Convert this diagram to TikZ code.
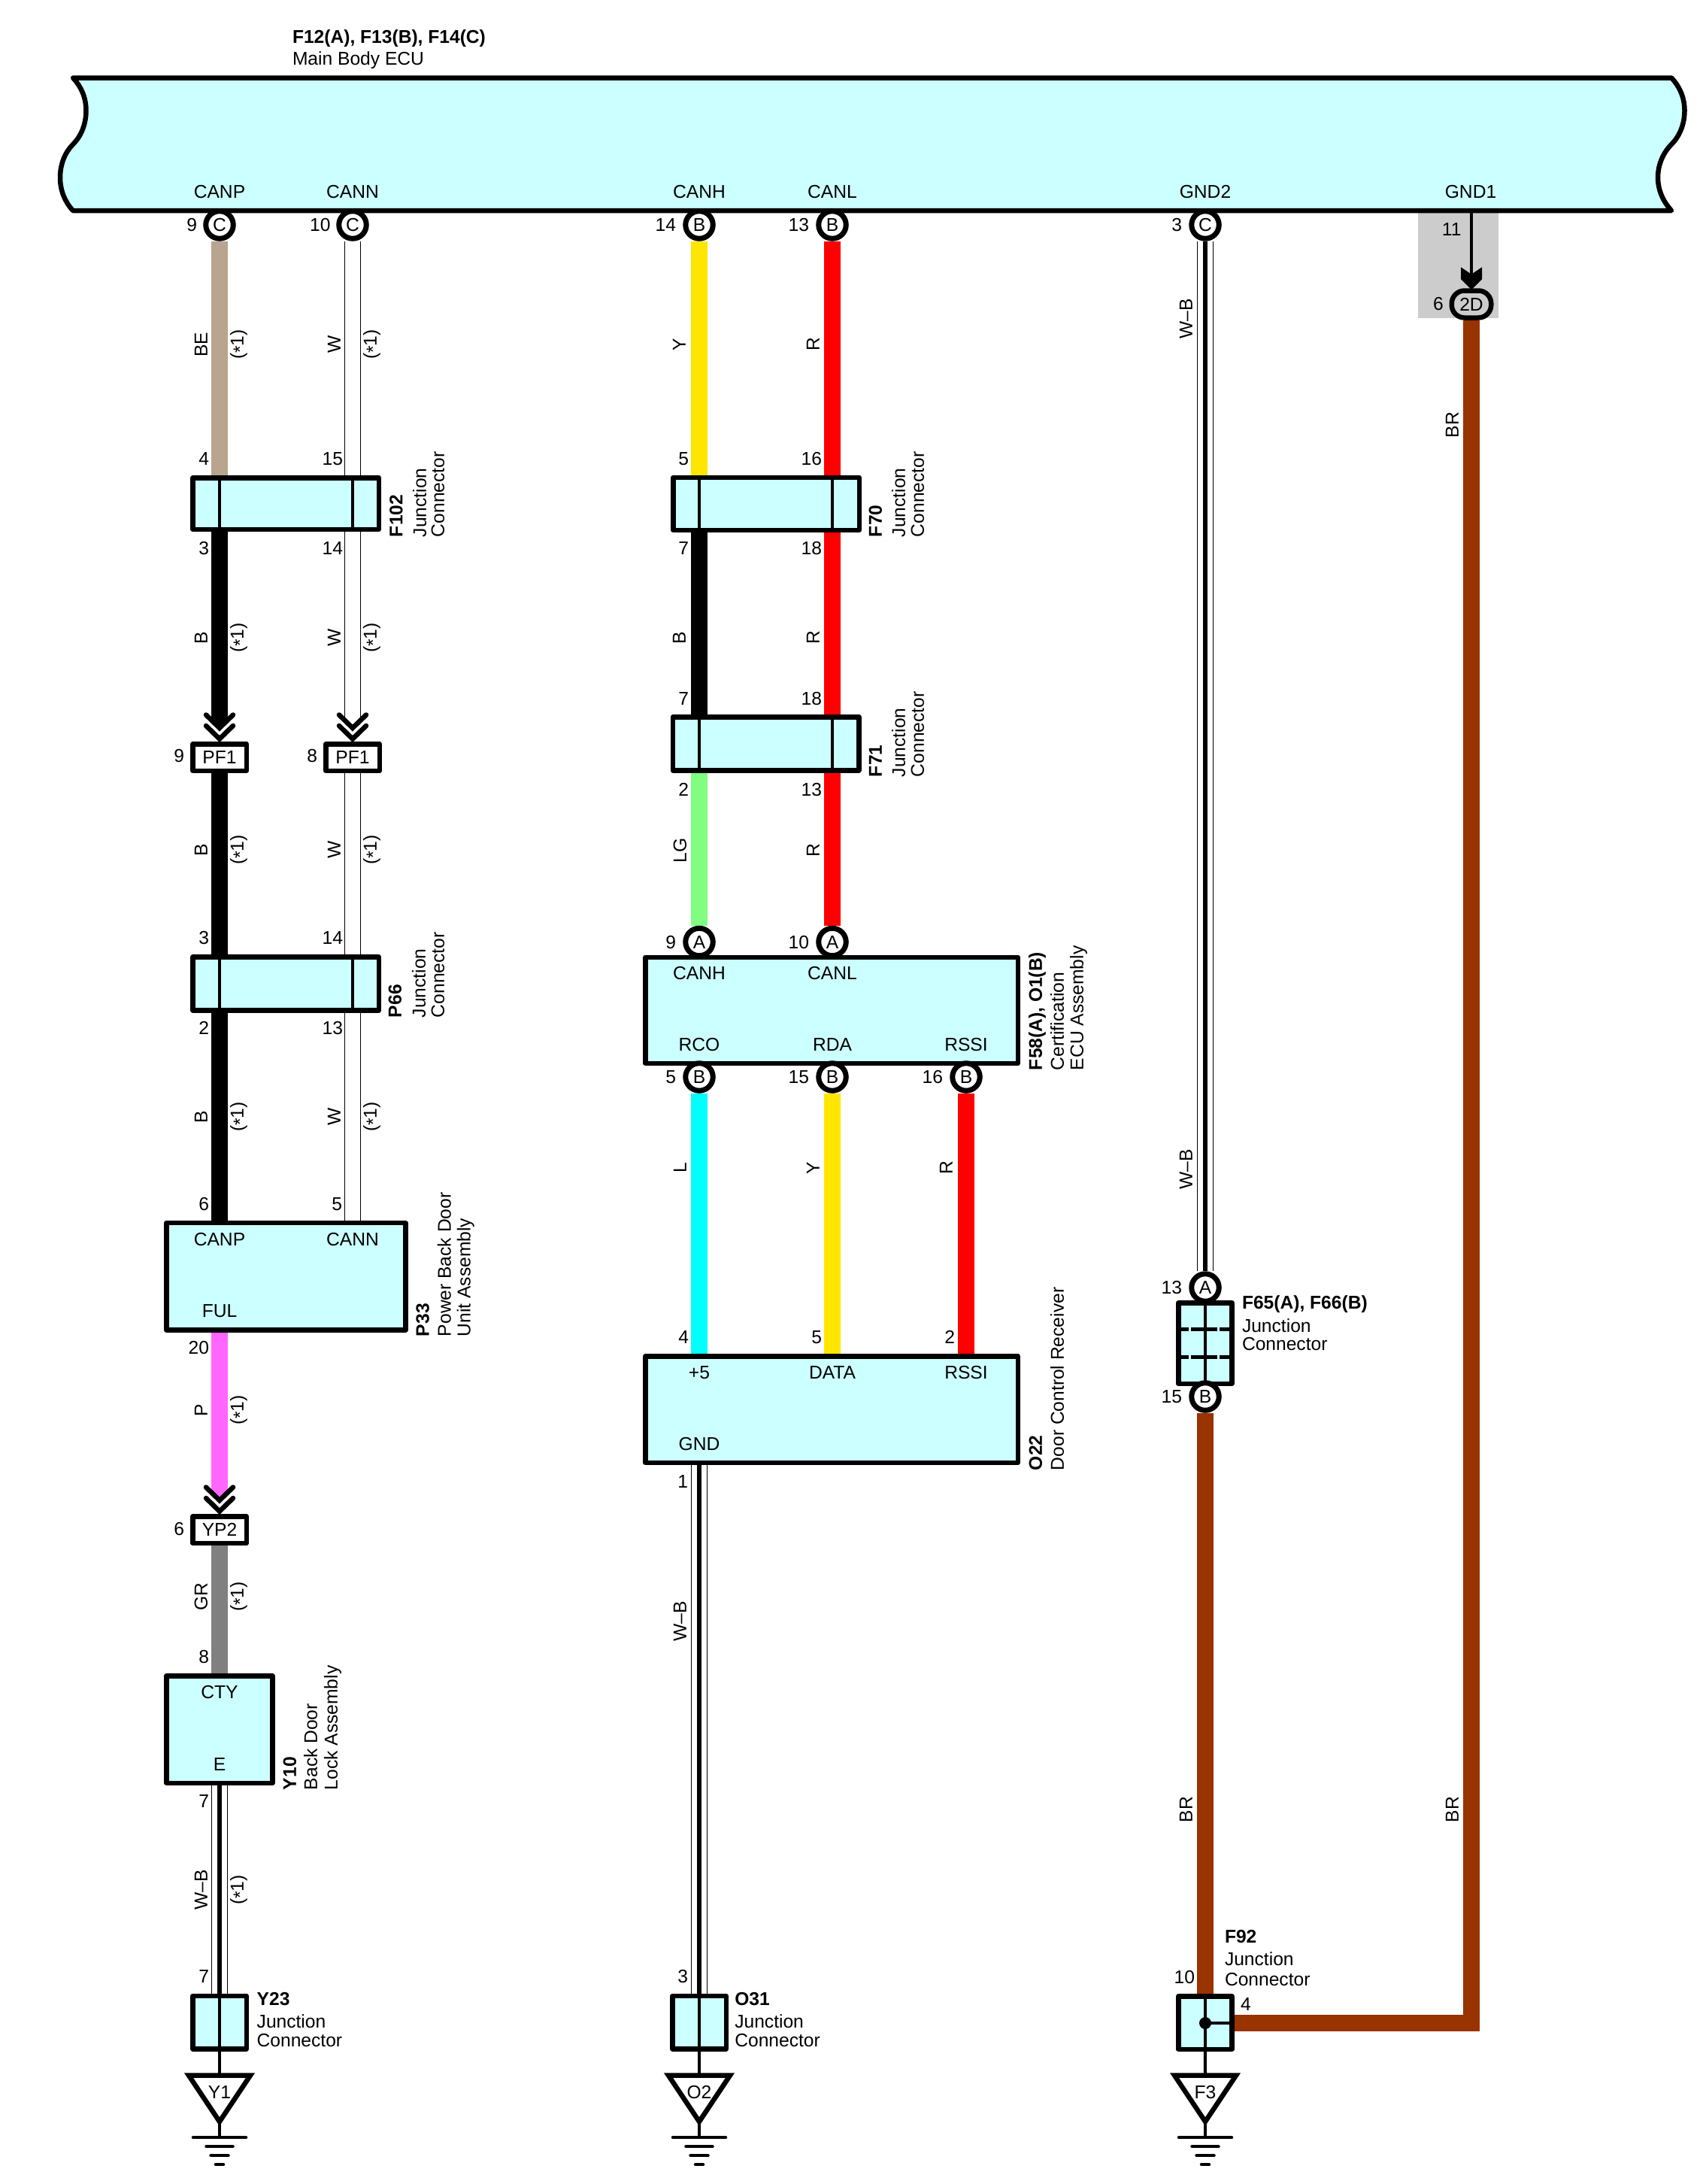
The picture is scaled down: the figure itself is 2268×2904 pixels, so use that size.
\documentclass[tikz,border=0pt]{standalone}
\usepackage{fontspec}
\setmainfont{Liberation Sans}
\pgfdeclarelayer{wires}
\pgfsetlayers{wires,main}
\definecolor{boxcyan}{HTML}{CCFFFF}
\definecolor{wtan}{HTML}{B8A48F}
\definecolor{wpink}{HTML}{FF66FF}
\definecolor{wgray}{HTML}{808080}
\definecolor{wcyan}{HTML}{00FFFF}
\definecolor{wyellow}{HTML}{FFE600}
\definecolor{wgreen}{HTML}{80FF80}
\definecolor{wbrown}{HTML}{993300}
\definecolor{wred}{HTML}{FF0000}
\definecolor{panelgray}{HTML}{CCCCCC}
\newcommand\labfont{\fontsize{24.6}{26}\selectfont}
\tikzset{
  txt/.style={inner sep=0pt,outer sep=0pt,font=\labfont,text height=17.6pt,text depth=0pt},
  unitbox/.style={draw=black,fill=boxcyan,line width=6.5pt,line join=round,inner sep=0pt},
  pinc/.style={circle,draw=black,fill=white,line width=7pt,minimum size=36.5pt,inner sep=0pt,font=\labfont,text height=17.6pt,text depth=0pt},
  conn/.style={rectangle,draw=black,fill=white,line width=6.5pt,line join=round,minimum width=71.5pt,minimum height=35.5pt,inner sep=0pt,font=\labfont,text height=17.6pt,text depth=0pt},
  wire/.style={line width=21.5pt,line join=miter},
  wirew/.style={draw=black,line width=1.2pt,double=white,double distance=19.5pt},
  wirecore/.style={draw=black,line width=5.5pt},
  innerline/.style={draw=black,line width=4pt},
  chev/.style={draw=black,line width=6.5pt,line cap=round,line join=miter},
  gline/.style={draw=black,line width=4.5pt,line cap=round},
}
\newcount\tctr
\newcommand\ctext[3]{\global\advance\tctr by 1 \node[txt] (t\the\tctr) at (#1,#2) {#3};}
\newcommand\wtext[3]{\global\advance\tctr by 1 \node[txt,anchor=west] (t\the\tctr) at (#1,#2) {#3};}
\newcommand\vtext[3]{\global\advance\tctr by 1 \node[txt,rotate=90] (t\the\tctr) at (#1,#2) {#3};}
\newcommand\nlab[3]{\global\advance\tctr by 1 \node[txt,anchor=east] (t\the\tctr) at (#1,#2) {#3};}
\newcommand\vstart[3]{\global\advance\tctr by 1 \node[txt,rotate=90,anchor=west] (t\the\tctr) at (#1,#2) {#3};}
\newcommand\starone{(\raisebox{-0.16em}{*}1)}
\newcommand\ubox[5]{%
  \pgfmathsetmacro\bw{#4-#2-6.5}\pgfmathsetmacro\bh{#5-#3-6.5}%
  \node[unitbox,minimum width=\bw pt,minimum height=\bh pt] (#1) at ({(#2+#4)/2},{(#3+#5)/2}) {};}
% double chevron above a connector node; #2 = colour of the wire tip
\newcommand\chevs[3]{%
  \coordinate (#1end) at ([yshift=28pt]#2.north);
  \fill[#3] ([xshift=-10.75pt,yshift=28.5pt]#2.north) -- ([yshift=18pt]#2.north) -- ([xshift=10.75pt,yshift=28.5pt]#2.north) -- cycle;
  \draw[chev] ([xshift=-18pt,yshift=35.5pt]#2.north) -- ([yshift=18pt]#2.north) -- ([xshift=18pt,yshift=35.5pt]#2.north);
  \draw[chev] ([xshift=-18pt,yshift=21pt]#2.north) -- ([yshift=3.5pt]#2.north) -- ([xshift=18pt,yshift=21pt]#2.north);}
% earth symbol: name, x, text, box above
\newcommand\earth[4]{%
  \coordinate (#1top) at (#2,2759.5);
  \coordinate (#1apex) at (#2,2821);
  \coordinate (#1g) at (#2,2842);
  \draw[innerline] (#4.south) -- (#1top);
  \draw[draw=black,line width=6.5pt,line join=miter,fill=white] ({#2-41},2759.5) -- ({#2+41},2759.5) -- (#1apex) -- cycle;
  \draw[line width=4.5pt] (#1apex) -- (#1g);
  \draw[gline] ({#2-35},2842) -- ({#2+35},2842);
  \draw[gline] ({#2-17.5},2854) -- ({#2+17.5},2854);
  \draw[gline] ({#2-11.5},2866) -- ({#2+11.5},2866);
  \draw[gline] ({#2-5},2878) -- ({#2+5},2878);
  \ctext{#2}{2782}{#3}}
\begin{document}
\begin{tikzpicture}[x=1pt,y=-1pt]
\useasboundingbox (0,0) rectangle (2268,2904);
\begin{pgfonlayer}{wires}
  \fill[panelgray] (1886,280) rectangle (1993,422.7);
\end{pgfonlayer}
% main body
\draw[unitbox] (97,103.5) -- (2223,103.5)
  .. controls (2234,115) and (2240.5,130) .. (2240.5,147)
  .. controls (2240.5,165) and (2234,181) .. (2223,192)
  .. controls (2212,203) and (2205,219) .. (2205,236)
  .. controls (2205,253) and (2212,268) .. (2223,280)
  -- (97,280)
  .. controls (86,268) and (80,253) .. (80,236)
  .. controls (80,219) and (86,203) .. (97,192)
  .. controls (108,181) and (114.5,165) .. (114.5,147)
  .. controls (114.5,130) and (108,115) .. (97,103.5) -- cycle;
\global\tctr=0
\global\advance\tctr by 1
\node[txt,font=\labfont\bfseries,anchor=west] (ecutitle) at (389,49) {F12(A), F13(B), F14(C)};
\node[txt,anchor=west] (ecuname) at (389,78) {Main Body ECU};
\ctext{292}{254.5}{CANP}\ctext{469}{254.5}{CANN}\ctext{930}{254.5}{CANH}\ctext{1107}{254.5}{CANL}\ctext{1603}{254.5}{GND2}\ctext{1956}{254.5}{GND1}
% pins on main body
\node[pinc] (pcanp) at (292,299) {C};
\node[pinc] (pcann) at (469,299) {C};
\node[pinc] (pcanh) at (930,299) {B};
\node[pinc] (pcanl) at (1107,299) {B};
\node[pinc] (pgnd2) at (1603,299) {C};
\coordinate (pgnd1) at (1957,280);
\nlab{262}{299}{9}\nlab{439.5}{299}{10}\nlab{899}{299}{14}\nlab{1076}{299}{13}\nlab{1572}{299}{3}
\ctext{1930.7}{305}{11}\ctext{1913}{404}{6}
% 2D oval and arrow
\node[draw=black,fill=panelgray,line width=6.5pt,rounded corners=17pt,minimum width=52.5pt,minimum height=36pt,inner sep=0pt,font=\labfont,text height=17.6pt,text depth=0pt] (o2d) at (1957,404.5) {2D};
\draw[line width=4pt] (pgnd1) -- (o2d.north);
\fill[black] ([xshift=-14pt,yshift=28pt]o2d.north) -- ([yshift=18.5pt]o2d.north) -- ([xshift=14pt,yshift=28pt]o2d.north) -- ([xshift=14pt,yshift=12pt]o2d.north) -- ([yshift=-2pt]o2d.north) -- ([xshift=-14pt,yshift=12pt]o2d.north) -- cycle;

% --- left column ---
\ubox{fonetwo}{253}{632}{507}{707}
\coordinate (fonetwoa) at (292,669.5); \coordinate (fonetwob) at (469,669.5);
\draw[innerline] (fonetwoa |- fonetwo.north) -- (fonetwoa |- fonetwo.south);
\draw[innerline] (fonetwob |- fonetwo.north) -- (fonetwob |- fonetwo.south);
\node[conn] (pfa) at (292,1007) {PF1};
\node[conn] (pfb) at (469,1007) {PF1};
\chevs{pfa}{pfa}{black}
\chevs{pfb}{pfb}{white}
\ubox{psixsix}{253}{1269.3}{507}{1346.7}
\coordinate (psixa) at (292,1308); \coordinate (psixb) at (469,1308);
\draw[innerline] (psixa |- psixsix.north) -- (psixa |- psixsix.south);
\draw[innerline] (psixb |- psixsix.north) -- (psixb |- psixsix.south);
\ubox{pthree}{218}{1622.7}{542.7}{1771.7}
\coordinate (pthreea) at (292,1697); \coordinate (pthreeb) at (469,1697);
\node[conn] (ypt) at (292,2034) {YP2};
\chevs{ypt}{ypt}{wpink}
\ubox{yten}{218}{2225}{365.7}{2374}
\coordinate (ytena) at (292,2300);
\ubox{ytwo}{253}{2650.7}{331}{2727.7}
\coordinate (ytwoa) at (292,2689);
\draw[innerline] (ytwoa |- ytwo.north) -- (ytwoa |- ytwo.south);
\earth{ea}{292}{Y1}{ytwo}
\begin{pgfonlayer}{wires}
  \draw[wire,wtan] (pcanp) -- (fonetwoa);
  \draw[wirew] (pcann) -- (fonetwob);
  \draw[wire,black] (fonetwoa) -- (pfaend);
  \draw[wirew] (fonetwob) -- (pfbend);
  \draw[wire,black] (pfa) -- (psixa);
  \draw[wirew] (pfb) -- (psixb);
  \draw[wire,black] (psixa) -- (pthreea);
  \draw[wirew] (psixb) -- (pthreeb);
  \draw[wire,wpink] (pthreea) -- (yptend);
  \draw[wire,wgray] (ypt) -- (ytena);
  \draw[wirew] (ytena) -- (ytwoa);
  \draw[wirecore] (ytena) -- (ytwoa);
\end{pgfonlayer}
\nlab{278}{610}{4}\nlab{456}{610}{15}\nlab{278}{729}{3}\nlab{456}{729}{14}
\nlab{245}{1005}{9}\nlab{422}{1005}{8}\nlab{278}{1247}{3}\nlab{456}{1247}{14}
\nlab{278}{1367}{2}\nlab{456}{1367}{13}\nlab{278}{1601}{6}\nlab{455}{1601}{5}
\nlab{278}{1792}{20}\nlab{245}{2033}{6}\nlab{278}{2203}{8}\nlab{278}{2395}{7}\nlab{278}{2628}{7}
\vtext{267}{458}{BE}\vtext{315}{458}{\starone}\vtext{444}{458}{W}\vtext{492}{458}{\starone}
\vtext{267}{848}{B}\vtext{315}{848}{\starone}\vtext{444}{848}{W}\vtext{492}{848}{\starone}
\vtext{267}{1130}{B}\vtext{315}{1130}{\starone}\vtext{444}{1130}{W}\vtext{492}{1130}{\starone}
\vtext{267}{1485}{B}\vtext{315}{1485}{\starone}\vtext{444}{1485}{W}\vtext{492}{1485}{\starone}
\vtext{267}{1875}{P}\vtext{315}{1875}{\starone}
\vtext{267}{2123}{GR}\vtext{315}{2123}{\starone}
\vtext{267}{2513}{W–B}\vtext{315}{2513}{\starone}
\ctext{292}{1648}{CANP}\ctext{469}{1648}{CANN}\ctext{292}{1743}{FUL}
\ctext{292}{2250}{CTY}\ctext{292}{2346}{E}
\vstart{526.5}{714}{\bfseries F102}\vstart{558}{714}{Junction}\vstart{582}{714}{Connector}
\vstart{525}{1353}{\bfseries P66}\vstart{557}{1353}{Junction}\vstart{582}{1353}{Connector}
\vstart{561.7}{1777}{\bfseries P33}\vstart{590.7}{1777}{Power Back Door}\vstart{616.7}{1777}{Unit Assembly}
\vstart{385}{2380}{\bfseries Y10}\vstart{413}{2380}{Back Door}\vstart{440}{2380}{Lock Assembly}
\wtext{341.7}{2658}{\bfseries Y23}\wtext{341.7}{2688}{Junction}\wtext{341.7}{2713}{Connector}

% --- middle column ---
\ubox{fseventy}{892}{631.5}{1146}{708}
\coordinate (fsa) at (930,670); \coordinate (fsb) at (1107,670);
\draw[innerline] (fsa |- fseventy.north) -- (fsa |- fseventy.south);
\draw[innerline] (fsb |- fseventy.north) -- (fsb |- fseventy.south);
\ubox{fseventyone}{891.5}{950}{1145.5}{1027.5}
\coordinate (fta) at (930,989); \coordinate (ftb) at (1107,989);
\draw[innerline] (fta |- fseventyone.north) -- (fta |- fseventyone.south);
\draw[innerline] (ftb |- fseventyone.north) -- (ftb |- fseventyone.south);
\ubox{ffive}{855}{1269.6}{1357}{1417}
\node[pinc] (pa) at (930,1252.5) {A};
\node[pinc] (pb) at (1107,1252.5) {A};
\node[pinc] (pc) at (930,1432) {B};
\node[pinc] (pd) at (1107,1432) {B};
\node[pinc] (pe) at (1285,1432) {B};
\ubox{otwo}{855}{1800}{1357}{1948}
\coordinate (ota) at (930,1874); \coordinate (otb) at (1107,1874); \coordinate (otc) at (1285,1874);
\ubox{othree}{891}{2650.7}{969}{2727.7}
\coordinate (otha) at (930,2689);
\draw[innerline] (otha |- othree.north) -- (otha |- othree.south);
\earth{eb}{930}{O2}{othree}
\begin{pgfonlayer}{wires}
  \draw[wire,wyellow] (pcanh) -- (fsa);
  \draw[wire,wred] (pcanl) -- (fsb);
  \draw[wire,black] (fsa) -- (fta);
  \draw[wire,wred] (fsb) -- (ftb);
  \draw[wire,wgreen] (fta) -- (pa);
  \draw[wire,wred] (ftb) -- (pb);
  \draw[wire,wcyan] (pc) -- (ota);
  \draw[wire,wyellow] (pd) -- (otb);
  \draw[wire,wred] (pe) -- (otc);
  \draw[wirew] (ota) -- (otha);
  \draw[wirecore] (ota) -- (otha);
\end{pgfonlayer}
\vtext{903}{458}{Y}\vtext{1081}{458}{R}\vtext{903}{848}{B}\vtext{1081}{848}{R}
\vtext{904}{1131}{LG}\vtext{1081}{1131}{R}\vtext{904}{1553}{L}\vtext{1081}{1553}{Y}\vtext{1258}{1553}{R}
\vtext{904}{2156}{W–B}
\nlab{916}{610}{5}\nlab{1093}{610}{16}\nlab{916}{729}{7}\nlab{1093}{729}{18}
\nlab{916}{929}{7}\nlab{1093}{929}{18}\nlab{916}{1050}{2}\nlab{1093}{1050}{13}
\nlab{899}{1252.5}{9}\nlab{1076}{1252.5}{10}\nlab{899}{1432}{5}\nlab{1076}{1432}{15}\nlab{1254}{1432}{16}
\nlab{916}{1778}{4}\nlab{1093}{1778}{5}\nlab{1270}{1778}{2}\nlab{915}{1970}{1}\nlab{915}{2628}{3}
\ctext{930}{1294}{CANH}\ctext{1107}{1294}{CANL}\ctext{930}{1389}{RCO}\ctext{1107}{1389}{RDA}\ctext{1285}{1389}{RSSI}
\ctext{930}{1825}{+5}\ctext{1107}{1825}{DATA}\ctext{1285}{1825}{RSSI}\ctext{930}{1920}{GND}
\vstart{1164}{714}{\bfseries F70}\vstart{1195}{714}{Junction}\vstart{1220}{714}{Connector}
\vstart{1164}{1033}{\bfseries F71}\vstart{1195}{1033}{Junction}\vstart{1220}{1033}{Connector}
\vstart{1377}{1423}{\bfseries F58(A), O1(B)}\vstart{1406}{1423}{Certification}\vstart{1432}{1423}{ECU Assembly}
\vstart{1377}{1955}{\bfseries O22}\vstart{1406}{1955}{Door Control Receiver}
\wtext{977.3}{2658}{\bfseries O31}\wtext{977.3}{2688}{Junction}\wtext{977.3}{2713}{Connector}

% --- right columns ---
\ubox{fsixfive}{1564}{1729}{1641.7}{1843}
\coordinate (fsc) at (1603,1786);
\draw[innerline] (fsc |- fsixfive.north) -- (fsc |- fsixfive.south);
\coordinate (dl1) at (1567,1767.3); \coordinate (dr1) at (1638.7,1767.3);
\coordinate (dl2) at (1567,1804); \coordinate (dr2) at (1638.7,1804);
\draw[line width=5pt,dash pattern=on 35pt off 3pt,dash phase=21pt] (dl1) -- (dr1);
\draw[line width=5pt,dash pattern=on 35pt off 3pt,dash phase=21pt] (dl2) -- (dr2);
\node[pinc] (pf) at (1603,1712) {A};
\node[pinc] (pg) at (1603,1857) {B};
\ubox{fninetwo}{1564}{2651}{1641.7}{2728}
\coordinate (fnc) at (1603,2690);
\draw[innerline] (fnc |- fninetwo.north) -- (fnc |- fninetwo.south);
\coordinate (fnr) at (fninetwo.east |- fnc);
\draw[innerline] (fnc) -- (fnr);
\fill[black] (fnc) circle[radius=8pt];
\earth{ec}{1603}{F3}{fninetwo}
\begin{pgfonlayer}{wires}
  \draw[wirew] (pgnd2) -- (pf);
  \draw[wirecore] (pgnd2) -- (pf);
  \draw[wire,wbrown] (pg) -- (fnc);
  \draw[wire,wbrown] (fnc) -| (o2d);
\end{pgfonlayer}
\vtext{1577}{424}{W–B}\vtext{1577}{1555}{W–B}\vtext{1577}{2406}{BR}\vtext{1931}{565}{BR}\vtext{1931}{2406}{BR}
\nlab{1572}{1712}{13}\nlab{1572}{1857}{15}\nlab{1589}{2629}{10}\ctext{1657}{2665}{4}
\wtext{1652}{1731.7}{\bfseries F65(A), F66(B)}\wtext{1652}{1762.7}{Junction}\wtext{1652}{1787}{Connector}
\wtext{1629}{2575}{\bfseries F92}\wtext{1629}{2604.5}{Junction}\wtext{1629}{2631.5}{Connector}
\end{tikzpicture}
\end{document}
